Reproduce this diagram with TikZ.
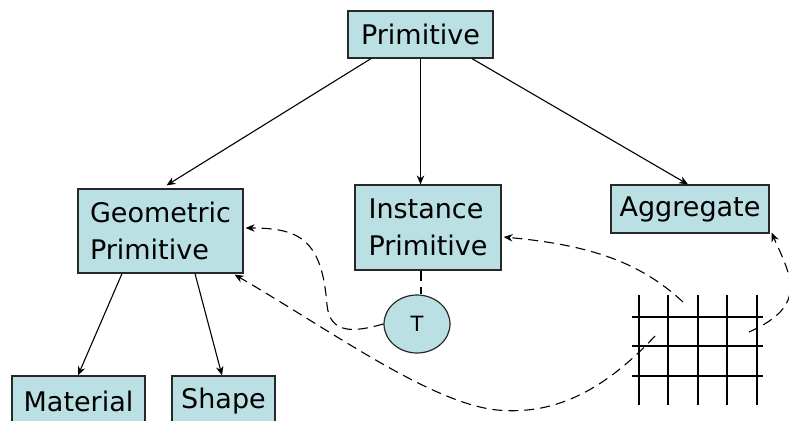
\documentclass[tikz,border=0pt]{standalone}
\usepackage{fontspec}
\setmainfont{DejaVu Sans}
\usetikzlibrary{arrows.meta,shapes.geometric}
\definecolor{boxfill}{RGB}{187,224,227}
\definecolor{boxline}{RGB}{40,40,40}
\tikzset{
  box/.style={draw=boxline, line width=1.2pt, fill=boxfill, inner sep=0pt, align=left,
    font=\fontsize{27}{37}\selectfont},
  arr/.style={line width=1.1pt, -{Stealth[length=9pt,width=7.5pt]}},
  darr/.style={line width=1.1pt, dash pattern=on 10pt off 6pt, -{Stealth[length=9pt,width=7.5pt]}},
  dline/.style={line width=1.1pt, dash pattern=on 10pt off 6pt},
  gridline/.style={line width=2.4pt, black}
}
\begin{document}
\begin{tikzpicture}[x=1pt,y=-1pt]
\useasboundingbox (0,0) rectangle (789,420);
% boxes
\node[box, minimum width=145, minimum height=47] (prim) at (420.5,34.5) {Primitive};
\node[box, minimum width=165, minimum height=84] (geo) at (160.5,231) {Geometric\\Primitive};
\node[box, minimum width=146, minimum height=85] (inst) at (428,227.5) {Instance\\Primitive};
\node[box, minimum width=158, minimum height=48] (agg) at (690,209) {Aggregate};
\node[box, minimum width=133, minimum height=50] (mat) at (78.5,401) {Material};
\node[box, minimum width=103, minimum height=50] (shp) at (223.5,401) {Shape};
\node[ellipse, draw=boxline, line width=1.2pt, fill=boxfill, minimum width=66, minimum height=58,
  inner sep=0pt, font=\fontsize{21}{24}\selectfont] (T) at (417,324) {T};
% solid arrows
\draw[arr] ([xshift=-49.5pt]prim.south) -- ([xshift=6pt,yshift=3pt]geo.north);
\draw[arr] (prim.south) -- (prim.south |- inst.north);
\draw[arr] ([xshift=51.5pt]prim.south) -- ([xshift=-2pt]agg.north);
\draw[arr] ([xshift=-38.5pt]geo.south) -- ([xshift=-0.5pt]mat.north);
\draw[arr] ([xshift=34.5pt]geo.south) -- ([xshift=-1.5pt]shp.north);
% grid
\foreach \x in {639,668,698,727,757} \draw[gridline] (\x,295) -- (\x,405);
\foreach \y in {317,346,376} \draw[gridline] (632,\y) -- (763,\y);
\coordinate (g1) at (655,336);
\coordinate (g2) at (683,302);
\coordinate (g3) at (749,332);
% dashed connectors
\draw[dline] ([xshift=-7pt]inst.south) -- ([xshift=4pt]T.north);
\draw[darr] (T.west) .. controls (355,332) and (330,335) .. (327,305)
   .. controls (322,240) and (300,228) .. ([xshift=2pt,yshift=3pt]geo.east);
\draw[darr] (g1) .. controls (600,395) and (550,415) .. (497,410)
   .. controls (430,403) and (330,330) .. ([xshift=-9pt,yshift=-1pt]geo.south east);
\draw[darr] (g2) .. controls (640,262) and (590,245) .. ([xshift=2pt,yshift=-9.5pt]inst.east);
\draw[darr] (g3) .. controls (810,305) and (790,275) .. ([xshift=2pt,yshift=1pt]agg.south east);
\end{tikzpicture}
\end{document}
